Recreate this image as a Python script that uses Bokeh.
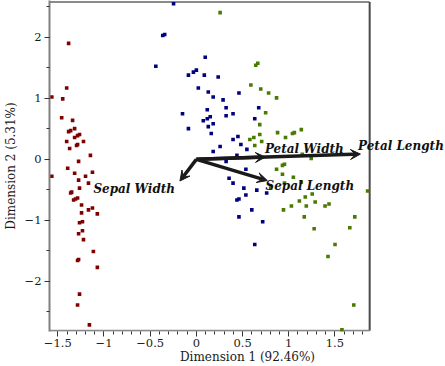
from bokeh.plotting import figure
from bokeh.models import (Range1d, FixedTicker, CustomJSTickFormatter, Arrow, VeeHead,
                          ColumnDataSource, Label)
from bokeh.embed import file_html
from bokeh.resources import INLINE

# ---- data ----
red_x = [-1.383, -1.404, -1.565, -1.447, -1.458, -1.340, -1.318, -1.361, -1.383, -1.265,
         -1.286, -1.318, -1.404, -1.222, -1.286, -1.297, -1.372, -1.147, -1.275, -1.393,
         -1.125, -1.318, -1.565, -1.200, -1.275, -1.168, -1.265, -1.350, -1.361, -1.286,
         -1.308, -1.329, -1.243, -1.125, -1.168, -1.243, -1.072, -1.233, -1.265, -1.233,
         -1.275, -1.222, -1.115, -1.275, -1.286, -1.072, -1.265, -1.286, -1.158]
red_y = [1.902, 1.171, 1.024, 0.992, 0.683, 0.639, 0.504, 0.472, 0.455, 0.407,
         0.390, 0.358, 0.293, 0.293, 0.244, 0.228, 0.179, 0.065, -0.033, -0.146,
         -0.211, -0.228, -0.276, -0.276, -0.341, -0.390, -0.472, -0.537, -0.553, -0.634,
         -0.650, -0.667, -0.748, -0.797, -0.829, -0.878, -0.894, -1.024, -1.041, -1.171,
         -1.220, -1.317, -1.512, -1.642, -1.659, -1.772, -2.211, -2.390, -2.715]

blue_x = [-0.247, -0.364, -0.343, 0.096, -0.439, 0.000, -0.032, -0.086, 0.086, 0.236,
          0.021, 0.129, 0.461, 0.182, 0.289, 0.322, 0.118, -0.150, 0.675, 0.397,
          0.322, 0.150, 0.118, 0.075, 0.632, 0.182, 0.129, -0.086, 0.161, 0.450,
          0.397, 0.482, 0.257, 0.547, 0.182, 0.439, 0.322, 0.536, 0.354, 0.397,
          0.514, 0.654, 0.536, 0.461, 0.761, 0.439, 0.600, 0.461, 0.718, 0.632]
blue_y = [2.553, 2.033, 2.049, 1.675, 1.528, 1.463, 1.431, 1.382, 1.382, 1.350,
          1.171, 1.106, 1.089, 1.024, 0.976, 0.846, 0.813, 0.748, 0.846, 0.748,
          0.715, 0.699, 0.667, 0.634, 0.667, 0.585, 0.537, 0.504, 0.423, 0.374,
          0.325, 0.244, 0.211, 0.163, 0.130, 0.065, -0.033, -0.163, -0.309, -0.390,
          -0.472, -0.504, -0.585, -0.650, -0.553, -0.667, -0.829, -0.943, -1.024, -1.398]

green_x = [0.257, 0.665, 0.643, 0.590, 0.697, 0.782, 0.868, 0.750, 0.686, 0.879,
           0.965, 1.040, 1.061, 1.136, 0.686, 0.622, 0.579, 0.707, 0.632, 1.147,
           1.243, 0.932, 0.954, 0.868, 0.932, 1.050, 1.136, 0.954, 0.804, 1.254,
           1.179, 1.286, 1.115, 1.029, 1.190, 1.393, 1.436, 0.943, 1.168, 1.715,
           1.854, 1.275, 1.661, 1.501, 1.425, 1.704, 1.576]
green_y = [2.407, 1.577, 1.545, 1.220, 1.154, 1.089, 1.008, 0.764, 0.569, 0.439,
           0.358, 0.423, 0.439, 0.488, 0.407, 0.358, 0.325, 0.293, 0.228, 0.081,
           0.016, -0.098, -0.081, -0.163, -0.244, -0.293, -0.374, -0.390, -0.472, -0.569,
           -0.618, -0.699, -0.683, -0.764, -0.764, -0.764, -0.732, -0.829, -0.943, -0.943,
           -0.520, -1.138, -1.122, -1.398, -1.593, -2.390, -2.797]

variables = ["Petal Length", "Petal Width", "Sepal Length", "Sepal Width"]
arrow_x = [1.776, 0.747, 0.768, -0.178]
arrow_y = [0.086, 0.037, -0.348, -0.355]
label_x = [1.750, 0.742, 0.748, -1.115]
label_y = [0.220, 0.170, -0.445, -0.490]

x_ticks = [-1.5, -1.0, -0.5, 0.0, 0.5, 1.0, 1.5]
x_minor = [round(-1.5 + 0.1 * i, 1) for i in range(34)]
y_ticks = [-2, -1, 0, 1, 2]
y_minor = [-2.5, -2.0, -1.5, -1.0, -0.5, 0.0, 0.5, 1.0, 1.5, 2.0, 2.5]

# plot box limits (the frame is widened to the right so the last label is not clipped)
box_x = [-1.59, 1.876]
box_y = [-2.81, 2.58]
canvas_x_end = 2.697
canvas_y = [-2.824, 2.606]

FONT = "DejaVu Serif"

p = figure(width=445, height=366, output_backend="svg", toolbar_location=None,
           x_range=Range1d(box_x[0], canvas_x_end), y_range=Range1d(canvas_y[0], canvas_y[1]),
           min_border_left=45, min_border_right=0, min_border_top=0, min_border_bottom=32,
           styles={"position": "absolute", "left": "0px", "top": "0px"})

# box edges: top, right, bottom
p.segment(x0=[box_x[0], box_x[1], box_x[0]], y0=[box_y[1], box_y[0], box_y[0]],
          x1=[box_x[1], box_x[1], box_x[1]], y1=[box_y[1], box_y[1], box_y[0]],
          line_color=["#8a8a8a", "#4a4a4a", "#8a8a8a"], line_width=2)

p.scatter(red_x, red_y, marker="square", size=3.6, fill_color="#800000", line_color=None)
p.scatter(blue_x, blue_y, marker="square", size=3.6, fill_color="#000080", line_color=None)
p.scatter(green_x, green_y, marker="square", size=3.6, fill_color="#4a7a00", line_color=None)

asrc = ColumnDataSource(dict(x0=[0.0] * len(arrow_x), y0=[0.0] * len(arrow_y),
                             x1=arrow_x, y1=arrow_y))
p.add_layout(Arrow(source=asrc, x_start="x0", y_start="y0", x_end="x1", y_end="y1",
                   line_width=3.5, line_color="#1a1a1a",
                   end=VeeHead(size=10, fill_color="#1a1a1a", line_color="#1a1a1a", line_width=1)))

for lx, ly, name in zip(label_x, label_y, variables):
    p.add_layout(Label(x=lx, y=ly, text=name, text_font=FONT,
                       text_font_style="bold italic", text_font_size="12px",
                       text_baseline="middle", text_color="#111111"))

fmt = CustomJSTickFormatter(code="""
const v = Math.round(tick*10)/10;
return (v < 0 ? '\\u2212' : '') + Math.abs(v).toString();
""")

p.xaxis.ticker = FixedTicker(ticks=x_ticks, minor_ticks=x_minor)
p.yaxis.ticker = FixedTicker(ticks=y_ticks, minor_ticks=y_minor)
p.xaxis.formatter = fmt
p.yaxis.formatter = fmt
p.xaxis.axis_label = "Dimension 1 (92.46%)"
p.yaxis.axis_label = "Dimension 2 (5.31%)"

for ax in (p.xaxis, p.yaxis):
    ax.axis_line_color = "#808080"
    ax.axis_line_width = 2
    ax.major_tick_line_color = "#333333"
    ax.minor_tick_line_color = "#333333"
    ax.major_tick_out = 5
    ax.major_tick_in = 0
    ax.minor_tick_out = 3
    ax.minor_tick_in = 0
    ax.major_label_text_font = FONT
    ax.major_label_text_font_size = "11.5px"
    ax.major_label_text_color = "#1a1a1a"
    ax.axis_label_text_font = FONT
    ax.axis_label_text_font_size = "12px"
    ax.axis_label_text_font_style = "normal"
    ax.axis_label_text_color = "#1a1a1a"

p.xaxis.axis_line_color = None
p.yaxis.major_label_standoff = 3
p.yaxis.axis_label_standoff = 4
p.xaxis.major_label_standoff = 2
p.xaxis.axis_label_standoff = 0

p.grid.visible = False
p.outline_line_color = None
p.background_fill_color = "white"
p.border_fill_color = "white"

open("out.html", "w").write(file_html(p, INLINE))
